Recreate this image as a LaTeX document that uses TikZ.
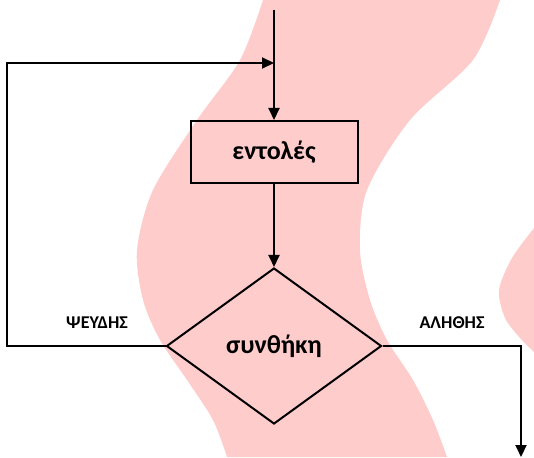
\documentclass[tikz,border=0pt]{standalone}
\usepackage{fontspec}
\setmainfont{Carlito}
\usetikzlibrary{shapes.geometric,arrows.meta,positioning}
\definecolor{bandpink}{RGB}{255,204,204}
\begin{document}
\begin{tikzpicture}[x=1pt,y=-1pt,node distance=83pt]
  \tikzstyle{process} = [rectangle, minimum width=167pt, minimum height=62pt, text centered, draw=black, line width=2pt, font=\bfseries\fontsize{26}{30}\selectfont]
  \tikzstyle{decision} = [diamond, minimum width=215pt, minimum height=156pt, inner sep=0pt, draw=black, line width=2pt, font=\bfseries\fontsize{26}{30}\selectfont]
  \tikzstyle{tag} = [font=\bfseries\fontsize{18}{21}\selectfont]
  \tikzstyle{arrow} = [line width=2pt,->,>={Triangle[length=12pt,width=11pt]}]

  \useasboundingbox (0,0) rectangle (534,457);

  % background band
  \fill[bandpink] plot[smooth] coordinates {(263,0) (240,60) (197,120) (153,190) (137,250) (143,300) (160,340) (187,380) (213,420) (227,457)}
    -- plot[smooth] coordinates {(447,457) (433,420) (413,380) (387,340) (370,300) (360,250) (367,190) (410,120) (473,60) (500,0)} -- cycle;
  \fill[bandpink] plot[smooth] coordinates {(534,228) (512,258) (499,290) (505,318) (520,338) (534,352)} -- cycle;

  \node (entoles) [process] at (274,152) {εντολές};
  \node (synthiki) [decision, below=of entoles] {συνθήκη};

  \coordinate (start) at (274,10);
  \coordinate (merge) at (274,63);
  \coordinate (exit) at (521,457);

  \node (false-tag) [tag] at (97,323) {ΨΕΥΔΗΣ};
  \node (true-tag) [tag] at (452,323) {ΑΛΗΘΗΣ};

  \draw [arrow] (start) -- (entoles);
  \draw [arrow] (entoles) -- (synthiki);
  \draw [arrow] (synthiki.west) -- ++(-159,0) |- (merge);
  \draw [arrow] (synthiki.east) -| (exit);
\end{tikzpicture}
\end{document}
